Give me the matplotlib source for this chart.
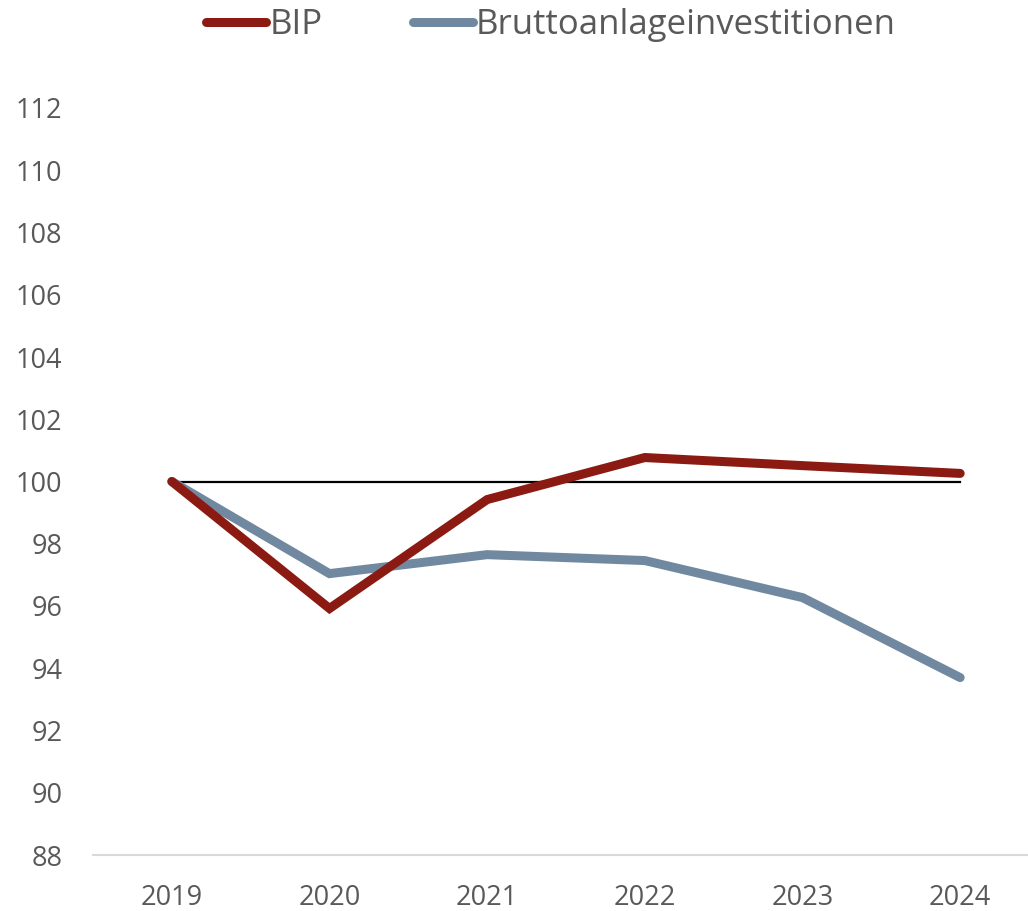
import matplotlib
matplotlib.use("Agg")
import matplotlib.pyplot as plt

years = ["2019", "2020", "2021", "2022", "2023", "2024"]
bip = [100.0, 95.92, 99.42, 100.77, 100.51, 100.26]
brutto = [100.0, 97.04, 97.65, 97.46, 96.27, 93.70]
series_names = ["BIP", "Bruttoanlageinvestitionen"]
yticks = list(range(88, 113, 2))

plt.rcParams["font.family"] = ["Open Sans", "DejaVu Sans"]

W, H = 1028, 911
fig = plt.figure(figsize=(W / 100, H / 100), dpi=100)
left, right = 93, 1039
bottom, top = 855, 108
ax = fig.add_axes([left / W, (H - bottom) / H, (right - left) / W, (bottom - top) / H])

x = list(range(len(years)))
red = "#8B1A12"
grey = "#7189A0"
ax.plot(x, [100] * len(x), color="black", lw=1.6, zorder=2)
ax.plot(x, brutto, color=grey, lw=6.5, solid_capstyle="round", solid_joinstyle="miter", label=series_names[1], zorder=3)
ax.plot(x, bip, color=red, lw=6.5, solid_capstyle="round", solid_joinstyle="miter", label=series_names[0], zorder=4)

ax.set_xlim(-0.5, len(years) - 0.5)
ax.set_ylim(88, 112)
ax.set_yticks(yticks)
ax.set_yticklabels([str(t) for t in yticks])
ax.set_xticks(x)
ax.set_xticklabels(years)
ax.tick_params(axis="both", length=0, labelsize=19.5, colors="#595959")
ax.tick_params(axis="y", pad=22)
ax.tick_params(axis="x", pad=21)
for s in ["top", "right", "left"]:
    ax.spines[s].set_visible(False)
ax.spines["bottom"].set_color("#D9D9D9")
ax.spines["bottom"].set_linewidth(1.5)

h, l = ax.get_legend_handles_labels()
leg = fig.legend([h[1], h[0]], [l[1], l[0]], loc="center left", bbox_to_anchor=(206 / W, 1 - 25 / H),
                 ncol=2, frameon=False, fontsize=25, handlelength=1.73, handletextpad=0.09,
                 columnspacing=2.6, borderpad=0, borderaxespad=0, labelcolor="#595959")

fig.savefig("out.png", dpi=100)
